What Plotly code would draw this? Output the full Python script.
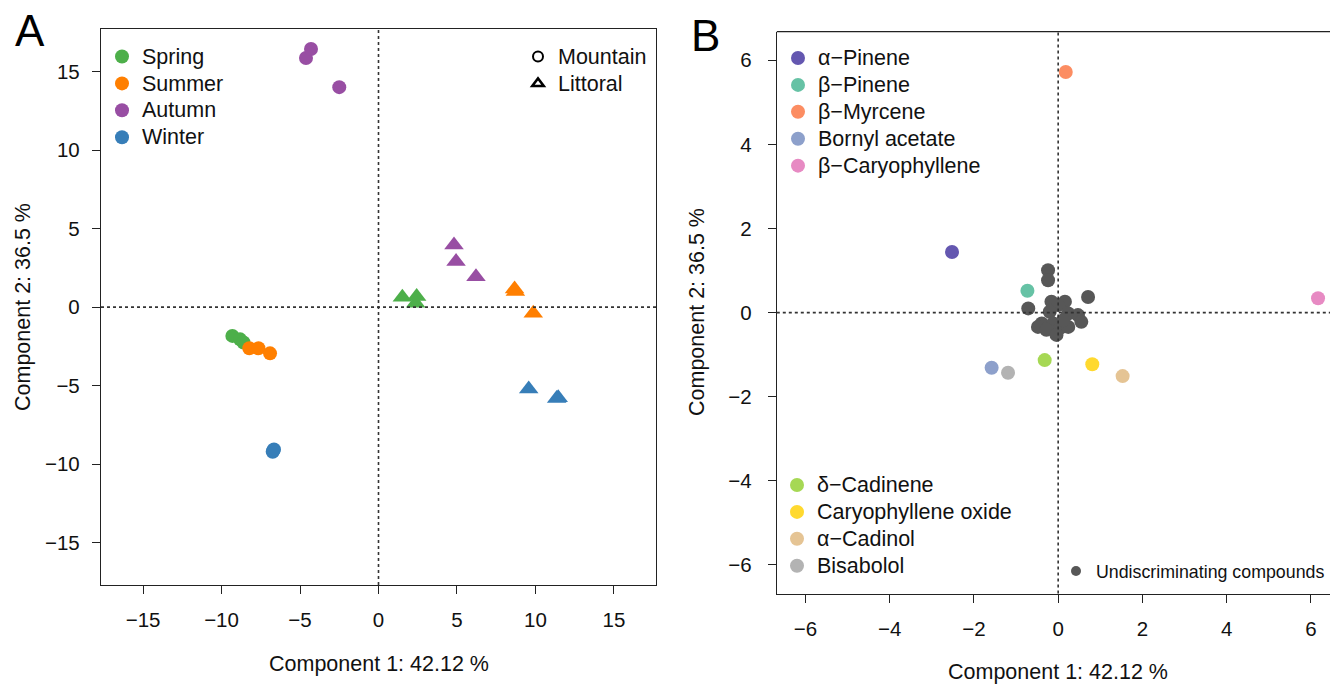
import plotly.graph_objects as go

W, H = 1330, 684
FONT = "Liberation Sans, Arial, sans-serif"
TXT = "#111111"

# ---------------- Panel A data ----------------
seasons = ["Spring", "Summer", "Autumn", "Winter"]
season_colors = ["#4daf4a", "#ff7f00", "#984ea3", "#377eb8"]

mountain_x = [[-9.31, -8.82, -8.60], [-8.23, -7.65, -6.91], [-4.62, -4.30, -2.50], [-6.66, -6.74, -6.70]]
mountain_y = [[-1.83, -2.05, -2.25], [-2.62, -2.62, -2.94], [15.85, 16.43, 14.00], [-9.05, -9.20, -9.12]]
littoral_x = [[1.52, 2.43, 2.37], [8.67, 8.72, 9.86], [4.81, 4.94, 6.21], [9.57, 11.45, 11.35]]
littoral_y = [[0.63, 0.67, 0.25], [1.16, 1.00, -0.39], [3.96, 2.90, 1.94], [-5.21, -5.76, -5.82]]

site_labels = ["Mountain", "Littoral"]

a_ticks = [-15, -10, -5, 0, 5, 10, 15]
a_range = [-17.68, 17.68]

# ---------------- Panel B data ----------------
compounds_top = ["α\u2212Pinene", "β\u2212Pinene", "β\u2212Myrcene", "Bornyl acetate", "β\u2212Caryophyllene"]
top_x = [-2.52, -0.73, 0.18, -1.58, 6.17]
top_y = [1.44, 0.52, 5.72, -1.31, 0.34]
top_colors = ["#6457b0", "#66c2a5", "#fc8d62", "#8da0cb", "#e78ac3"]

compounds_bottom = ["δ\u2212Cadinene", "Caryophyllene oxide", "α\u2212Cadinol", "Bisabolol"]
bottom_x = [-0.32, 0.81, 1.53, -1.19]
bottom_y = [-1.13, -1.23, -1.51, -1.43]
bottom_colors = ["#a6d854", "#ffd92f", "#e5c494", "#b3b3b3"]

undisc_label = "Undiscriminating compounds"
undisc_x = [-0.24, -0.24, 0.71, -0.71, -0.16, 0.16, 0.00, -0.20, 0.24, 0.47, -0.39, -0.48,
            -0.12, 0.04, -0.28, 0.24, -0.04, 0.55, 0.12]
undisc_y = [1.01, 0.77, 0.37, 0.10, 0.26, 0.26, 0.18, 0.02, -0.02, -0.06, -0.26, -0.34,
            -0.26, -0.37, -0.41, -0.34, -0.53, -0.22, -0.18]
undisc_color = "#575757"

b_ticks = [-6, -4, -2, 0, 2, 4, 6]

x_title = "Component 1: 42.12 %"
y_title = "Component 2: 36.5 %"

# ---------------- layout geometry (pixels) ----------------
A_L, A_R, A_T, A_B = 101, 656, 29.3, 585
B_L, B_T, B_B = 776.8, 31.7, 593.5
B_x0px, B_pxu = 1058.3, 42.1
b_xrange = [-6.68, (W - B_x0px) / B_pxu]
b_yrange = [-6.68, 6.68]

LEG_TXT = 21.5
LEG_FS = 18.4


def px(x):
    return x / W


def py(y):
    return 1 - y / H


def big(s, size=LEG_TXT):
    return f'<span style="font-size:{size}px">{s}</span>'


fig = go.Figure()

# Panel A traces
for i, s in enumerate(seasons):
    fig.add_trace(go.Scatter(
        x=mountain_x[i], y=mountain_y[i], mode="markers", name=big(s),
        marker=dict(symbol="circle", size=14, color=season_colors[i]),
        xaxis="x", yaxis="y", legend="legend", showlegend=True))
    fig.add_trace(go.Scatter(
        x=littoral_x[i], y=littoral_y[i], mode="markers", name=s,
        marker=dict(symbol="triangle-up", size=17, color=season_colors[i]),
        xaxis="x", yaxis="y", showlegend=False))

# site legend entries
fig.add_trace(go.Scatter(x=[None], y=[None], mode="markers", name=big(site_labels[0]),
                         marker=dict(symbol="circle-open", size=10, color="black", line=dict(width=2)),
                         xaxis="x", yaxis="y", legend="legend2", showlegend=True))
fig.add_trace(go.Scatter(x=[None], y=[None], mode="markers", name=big(site_labels[1]),
                         marker=dict(symbol="triangle-up-open", size=10, color="black", line=dict(width=2.5)),
                         xaxis="x", yaxis="y", legend="legend2", showlegend=True))

# Panel B traces
fig.add_trace(go.Scatter(x=undisc_x, y=undisc_y, mode="markers", name=undisc_label,
                         marker=dict(size=14, color=undisc_color),
                         xaxis="x2", yaxis="y2", showlegend=False))
fig.add_trace(go.Scatter(x=[None], y=[None], mode="markers", name=undisc_label,
                         marker=dict(size=10, color=undisc_color),
                         xaxis="x2", yaxis="y2", legend="legend5", showlegend=True))
for i, c in enumerate(compounds_top):
    fig.add_trace(go.Scatter(x=[top_x[i]], y=[top_y[i]], mode="markers", name=big(c),
                             marker=dict(size=14, color=top_colors[i]),
                             xaxis="x2", yaxis="y2", legend="legend3", showlegend=True))
for i, c in enumerate(compounds_bottom):
    fig.add_trace(go.Scatter(x=[bottom_x[i]], y=[bottom_y[i]], mode="markers", name=big(c),
                             marker=dict(size=14, color=bottom_colors[i]),
                             xaxis="x2", yaxis="y2", legend="legend4", showlegend=True))

axis_common = dict(showgrid=False, zeroline=False, showline=True, linecolor="#222222", linewidth=1.3,
                   ticks="outside", ticklen=8, tickwidth=1.3, tickcolor="#222222",
                   tickfont=dict(family=FONT, size=20.5, color=TXT))

leg_common = dict(xanchor="left", yanchor="top", bgcolor="rgba(0,0,0,0)",
                  font=dict(family=FONT, size=LEG_FS, color=TXT), itemsizing="trace")

fig.update_layout(
    width=W, height=H, margin=dict(l=0, r=0, t=0, b=0, autoexpand=False), autosize=False,
    paper_bgcolor="white", plot_bgcolor="white",
    font=dict(family=FONT, color=TXT),
    xaxis=dict(domain=[px(A_L), px(A_R)], range=a_range, tickvals=a_ticks, mirror=True,
               anchor="y", ticklabelstandoff=8, **axis_common),
    yaxis=dict(domain=[py(A_B), py(A_T)], range=a_range, tickvals=a_ticks, mirror=True,
               anchor="x", ticklabelstandoff=8, **axis_common),
    xaxis2=dict(domain=[px(B_L), 1.0], range=b_xrange, tickvals=b_ticks, anchor="y2",
                ticklabelstandoff=9, **axis_common),
    yaxis2=dict(domain=[py(B_B), py(B_T)], range=b_yrange, tickvals=b_ticks, anchor="x2",
                ticklabelstandoff=12, **axis_common),
    legend=dict(x=px(102), y=py(38), **leg_common),
    legend2=dict(x=px(518), y=py(38), **leg_common),
    legend3=dict(x=px(778), y=py(39.5), **leg_common),
    legend4=dict(x=px(777), y=py(466.5), **leg_common),
    legend5=dict(x=px(1056), y=py(553), xanchor="left", yanchor="top", bgcolor="rgba(0,0,0,0)",
                 font=dict(family=FONT, size=17.8, color=TXT), itemsizing="trace"),
    showlegend=True,
)

dash_line = dict(color="#333333", width=1.6, dash="3px,3px")
fig.add_shape(type="line", xref="x", yref="y domain", x0=0, x1=0, y0=0, y1=1, line=dash_line)
fig.add_shape(type="line", xref="x domain", yref="y", x0=0, x1=1, y0=0, y1=0, line=dash_line)
fig.add_shape(type="line", xref="x2", yref="y2 domain", x0=0, x1=0, y0=0, y1=1, line=dash_line)
fig.add_shape(type="line", xref="x2 domain", yref="y2", x0=0, x1=1, y0=0, y1=0, line=dash_line)
# top border of panel B
fig.add_shape(type="line", xref="x2 domain", yref="y2 domain", x0=0, x1=1, y0=1, y1=1,
              line=dict(color="#222222", width=1.3))

ann_font = dict(family=FONT, size=21.5, color=TXT)
fig.add_annotation(x=px(378.5), y=py(664), xref="paper", yref="paper", text=x_title,
                   showarrow=False, font=ann_font, xanchor="center", yanchor="middle")
fig.add_annotation(x=px(1058.3), y=py(672), xref="paper", yref="paper", text=x_title,
                   showarrow=False, font=ann_font, xanchor="center", yanchor="middle")
fig.add_annotation(x=px(23), y=py(307), xref="paper", yref="paper", text=y_title, textangle=-90,
                   showarrow=False, font=ann_font, xanchor="center", yanchor="middle")
fig.add_annotation(x=px(697), y=py(312), xref="paper", yref="paper", text=y_title, textangle=-90,
                   showarrow=False, font=ann_font, xanchor="center", yanchor="middle")
fig.add_annotation(x=px(30), y=py(31), xref="paper", yref="paper", text="A",
                   showarrow=False, font=dict(family=FONT, size=44, color="#000"),
                   xanchor="center", yanchor="middle")
fig.add_annotation(x=px(705), y=py(35), xref="paper", yref="paper", text="B",
                   showarrow=False, font=dict(family=FONT, size=44, color="#000"),
                   xanchor="center", yanchor="middle")

fig.write_html(
    "out.html",
    config={"responsive": False, "displayModeBar": False},
    post_script=("document.body.style.margin='0';"
                 "var d=document.getElementById('{plot_id}');"
                 "d.style.position='absolute';d.style.left='0px';d.style.top='0px';"),
)
